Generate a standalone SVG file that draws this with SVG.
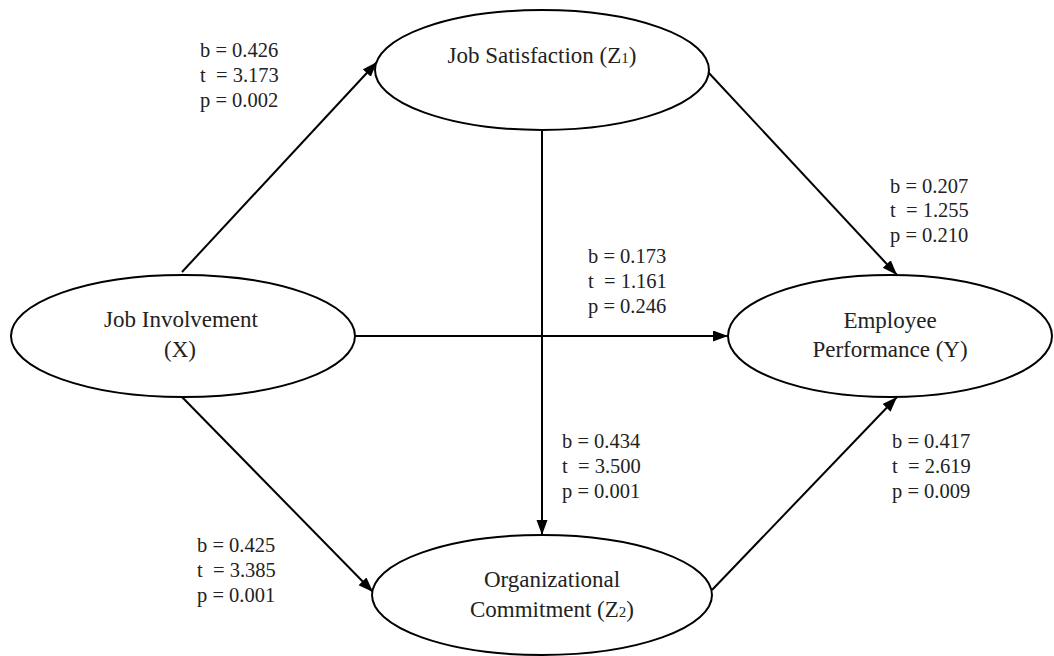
<svg xmlns="http://www.w3.org/2000/svg" width="1054" height="656" viewBox="0 0 1054 656" xml:space="preserve">
<defs>
<marker id="arr" markerUnits="userSpaceOnUse" markerWidth="16" markerHeight="12" refX="15" refY="5.5" orient="auto">
<path d="M0,0 L15,5.5 L0,11 z" fill="#000"/>
</marker>
<style>
.node ellipse{fill:#fff;stroke:#000;stroke-width:2}
.ntxt{font-family:"Liberation Serif","Times New Roman",serif;font-size:23px;fill:#222;text-anchor:middle}
.lbl{font-family:"Liberation Serif","Times New Roman",serif;font-size:20.5px;fill:#222;white-space:pre}
.sub{font-size:15px}
#connectors line{stroke:#000;stroke-width:2;marker-end:url(#arr)}
</style>
</defs>
<rect width="1054" height="656" fill="#fff"/>
<g id="connectors">
<line x1="182" y1="272" x2="377" y2="62"/>
<line x1="182" y1="397" x2="373" y2="592"/>
<line x1="355" y1="336" x2="728" y2="336"/>
<line x1="542" y1="130" x2="542" y2="535"/>
<line x1="708" y1="72" x2="897" y2="275"/>
<line x1="712" y1="590" x2="897" y2="397"/>
</g>
<g id="node-z1" class="node">
<ellipse cx="542" cy="70" rx="167" ry="60"/>
<text class="ntxt" x="542" y="63">Job Satisfaction (Z<tspan class="sub">1</tspan>)</text>
</g>
<g id="node-x" class="node">
<ellipse cx="183" cy="336" rx="172" ry="61"/>
<text class="ntxt" x="181" y="327">Job Involvement</text>
<text class="ntxt" x="180" y="357">(X)</text>
</g>
<g id="node-y" class="node">
<ellipse cx="890" cy="336" rx="162" ry="61"/>
<text class="ntxt" x="890" y="328">Employee</text>
<text class="ntxt" x="890" y="357">Performance (Y)</text>
</g>
<g id="node-z2" class="node">
<ellipse cx="542" cy="595" rx="170" ry="60"/>
<text class="ntxt" x="552" y="587">Organizational</text>
<text class="ntxt" x="552" y="617">Commitment (Z<tspan class="sub">2</tspan>)</text>
</g>
<g id="labels">
<text class="lbl" x="200" y="57">b = 0.426</text>
<text class="lbl" x="200" y="82">t  = 3.173</text>
<text class="lbl" x="200" y="107">p = 0.002</text>
<text class="lbl" x="890" y="193">b = 0.207</text>
<text class="lbl" x="890" y="217">t  = 1.255</text>
<text class="lbl" x="890" y="242">p = 0.210</text>
<text class="lbl" x="588" y="263">b = 0.173</text>
<text class="lbl" x="588" y="288">t  = 1.161</text>
<text class="lbl" x="588" y="313">p = 0.246</text>
<text class="lbl" x="562" y="448">b = 0.434</text>
<text class="lbl" x="562" y="473">t  = 3.500</text>
<text class="lbl" x="562" y="498">p = 0.001</text>
<text class="lbl" x="892" y="448">b = 0.417</text>
<text class="lbl" x="892" y="473">t  = 2.619</text>
<text class="lbl" x="892" y="498">p = 0.009</text>
<text class="lbl" x="197" y="552">b = 0.425</text>
<text class="lbl" x="197" y="577">t  = 3.385</text>
<text class="lbl" x="197" y="602">p = 0.001</text>
</g>
</svg>
